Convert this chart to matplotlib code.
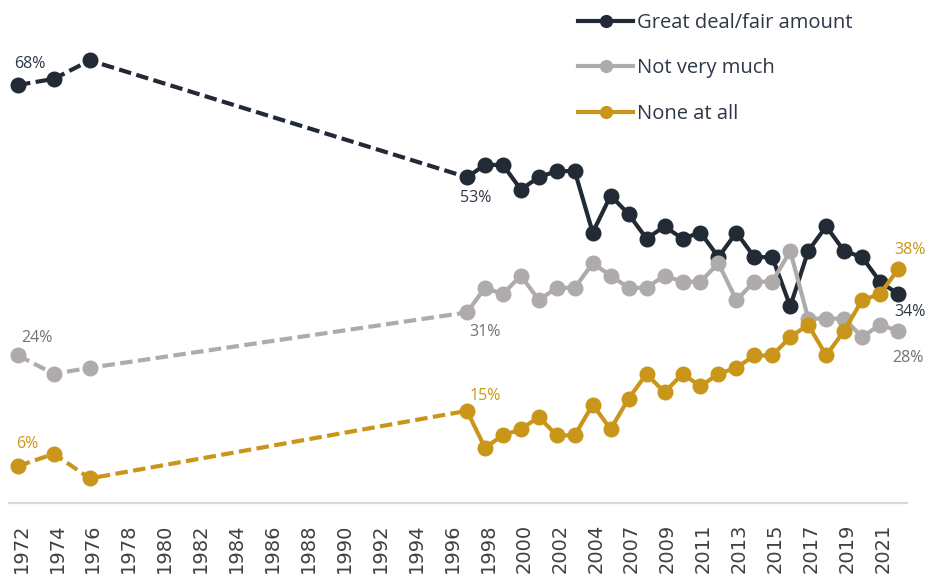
import matplotlib
matplotlib.use("Agg")
import matplotlib.pyplot as plt
import matplotlib.transforms as mtransforms
from matplotlib.lines import Line2D

# category axis: every survey year slot, 2006 has no slot
cat_years = list(range(1972, 2006)) + list(range(2007, 2023))

survey_years = [1972, 1974, 1976, 1997, 1998, 1999, 2000, 2001, 2002, 2003, 2004, 2005,
                2007, 2008, 2009, 2010, 2011, 2012, 2013, 2014, 2015, 2016, 2017, 2018,
                2019, 2020, 2021, 2022]
great_deal = [68, 69, 72, 53, 55, 55, 51, 53, 54, 54, 44, 50,
              47, 43, 45, 43, 44, 40, 44, 40, 40, 32, 41, 45,
              41, 40, 36, 34]
not_very_much = [24, 21, 22, 31, 35, 34, 37, 33, 35, 35, 39, 37,
                 35, 35, 37, 36, 36, 39, 33, 36, 36, 41, 30, 30,
                 30, 27, 29, 28]
none_at_all = [6, 8, 4, 15, 9, 11, 12, 14, 11, 11, 16, 12,
               17, 21, 18, 21, 19, 21, 22, 24, 24, 27, 29, 24,
               28, 33, 34, 38]

series_names = ["Great deal/fair amount", "Not very much", "None at all"]
colors = ["#222a36", "#afabab", "#c9961a"]
label_colors = ["#2e3746", "#767171", "#c9961a"]

# (dx, dy) in pixels for the labelled points: first, 1997, last
label_offsets = [
    [(12, 21), (9, -21), (12, -18)],
    [(19, 17), (18, -20), (10, -27)],
    [(9, 22), (18, 15), (12, 19)],
]

W, H = 929, 574
fig = plt.figure(figsize=(W / 100, H / 100), dpi=100)
ax = fig.add_axes([9 / W, 71 / H, 898 / W, 503 / H])

x = [cat_years.index(y) for y in survey_years]
split = survey_years.index(1997)
lw = 3.0
ms = 10.5

for k, vals in enumerate([great_deal, not_very_much, none_at_all]):
    c = colors[k]
    z = 3 + k
    ax.plot(x[:split + 1], vals[:split + 1], color=c, lw=lw,
            ls=(0, (3, 1.3)), dash_capstyle="butt", zorder=z)
    ax.plot(x[split:], vals[split:], color=c, lw=lw, zorder=z,
            solid_joinstyle="round")
    ax.plot(x, vals, ls="none", marker="o", ms=ms, color=c, zorder=z)
    for idx, (dx, dy) in zip([0, split, len(x) - 1], label_offsets[k]):
        ax.annotate(f"{vals[idx]}%", (x[idx], vals[idx]), xytext=(dx, dy),
                    textcoords="offset pixels", ha="center", va="center",
                    fontsize=11.5, family="Open Sans", color=label_colors[k],
                    zorder=10)

ax.set_xlim(-0.5, len(cat_years) - 0.5)
ax.set_ylim(0, 503 / 6.147)
ax.set_yticks([])
ax.set_xticks(range(0, len(cat_years), 2))
ax.set_xticklabels([str(y) for y in cat_years[::2]], rotation=90,
                   family="DejaVu Sans", fontsize=14, color="#404040")
ax.tick_params(axis="x", length=0, pad=15)
shift = mtransforms.ScaledTranslation(3 / 100, 0, fig.dpi_scale_trans)
for lab in ax.get_xticklabels():
    lab.set_transform(lab.get_transform() + shift)

for s in ["top", "left", "right"]:
    ax.spines[s].set_visible(False)
ax.spines["bottom"].set_color("#d9d9d9")
ax.spines["bottom"].set_linewidth(1.6)

handles = [Line2D([], [], color=c, lw=lw, marker="o", ms=8.5) for c in colors]
leg = ax.legend(handles, series_names, loc="upper left",
                bbox_to_anchor=(578 / W, 1 - 13 / H), bbox_transform=fig.transFigure,
                frameon=False, handlelength=2.75, handletextpad=0.2,
                labelspacing=1.26, borderaxespad=0, borderpad=0,
                prop={"family": "Open Sans", "size": 14.5})
for t in leg.get_texts():
    t.set_color("#2e3746")

fig.savefig("out.png", dpi=100)
